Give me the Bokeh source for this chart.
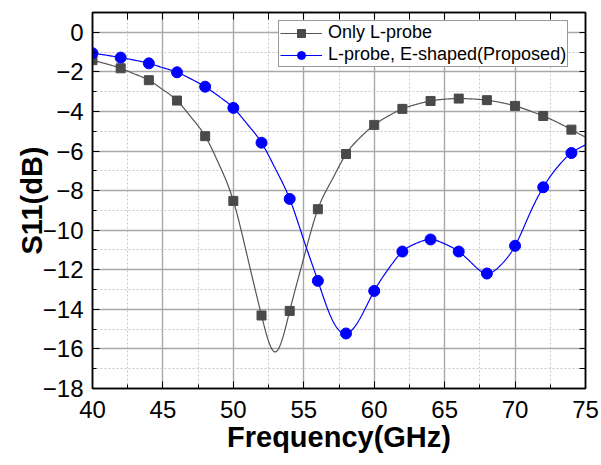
import numpy as np
from bokeh.plotting import figure
from bokeh.models import (LinearAxis, SingleIntervalTicker, Range1d, Legend, LegendItem,
                          CustomJSTickFormatter)
from bokeh.embed import file_html
from bokeh.resources import INLINE

# ---- data ----
freq = [40, 41, 42, 43, 44, 45, 46, 47, 48, 49, 50, 51, 52, 53, 54, 55, 56, 57,
        58, 59, 60, 61, 62, 63, 64, 65, 66, 67, 68, 69, 70, 71, 72, 73, 74, 75]
only_l_probe = [-1.41, -1.60, -1.82, -2.11, -2.42, -2.90, -3.45, -4.29, -5.25, -6.70,
                -8.52, -11.35, -14.31, -16.15, -14.08, -11.40, -8.94, -7.46, -6.15, -5.32,
                -4.68, -4.23, -3.87, -3.64, -3.47, -3.38, -3.35, -3.37, -3.43, -3.55,
                -3.72, -3.96, -4.23, -4.55, -4.92, -5.30]
e_shaped = [-1.06, -1.16, -1.28, -1.41, -1.57, -1.79, -2.02, -2.36, -2.75, -3.25,
            -3.82, -4.65, -5.58, -6.92, -8.42, -10.50, -12.56, -14.50, -15.22, -14.45,
            -13.07, -11.97, -11.08, -10.66, -10.47, -10.69, -11.08, -11.72, -12.19, -11.75,
            -10.79, -9.23, -7.83, -6.82, -6.10, -5.69]
series_names = ["Only L-probe", "L-probe, E-shaped(Proposed)"]
x_label = "Frequency(GHz)"
y_label = "S11(dB)"

FONT = "Liberation Sans"


def natural_spline(x, y, xs):
    x = np.asarray(x, float)
    y = np.asarray(y, float)
    n = len(x)
    h = np.diff(x)
    A = np.zeros((n, n))
    r = np.zeros(n)
    A[0, 0] = 1.0
    A[-1, -1] = 1.0
    for i in range(1, n - 1):
        A[i, i - 1] = h[i - 1]
        A[i, i] = 2 * (h[i - 1] + h[i])
        A[i, i + 1] = h[i]
        r[i] = 3 * ((y[i + 1] - y[i]) / h[i] - (y[i] - y[i - 1]) / h[i - 1])
    c = np.linalg.solve(A, r)
    b = (y[1:] - y[:-1]) / h - h * (2 * c[:-1] + c[1:]) / 3
    d = (c[1:] - c[:-1]) / (3 * h)
    idx = np.clip(np.searchsorted(x, xs) - 1, 0, n - 2)
    dx = xs - x[idx]
    return y[idx] + b[idx] * dx + c[idx] * dx ** 2 + d[idx] * dx ** 3


p = figure(width=601, height=465, output_backend="svg", toolbar_location=None,
           x_range=Range1d(40, 75), y_range=Range1d(-18, 1),
           min_border_left=92, min_border_right=16, min_border_top=12, min_border_bottom=77)

p.background_fill_color = "white"
p.border_fill_color = "white"
p.outline_line_color = "black"
p.outline_line_width = 1.5

# axes
xt = SingleIntervalTicker(interval=5, num_minor_ticks=2)
yt = SingleIntervalTicker(interval=2, num_minor_ticks=2)
p.xaxis.ticker = xt
p.yaxis.ticker = yt
for ax in (p.xaxis[0], p.yaxis[0]):
    ax.axis_line_color = "black"
    ax.axis_line_width = 1.5
    ax.major_tick_in = 7
    ax.major_tick_out = 0
    ax.minor_tick_in = 4
    ax.minor_tick_out = 0
    ax.major_tick_line_color = "black"
    ax.minor_tick_line_color = "black"
    ax.major_label_text_font = FONT
    ax.major_label_text_font_size = "24px"
    ax.major_label_text_color = "black"
    ax.axis_label_text_font = FONT
    ax.axis_label_text_font_style = "bold"
    ax.axis_label_text_font_size = "29px"
    ax.axis_label_text_color = "black"
p.xaxis.axis_label = x_label
p.yaxis.axis_label = y_label
p.xaxis.major_label_standoff = 12
p.yaxis.major_label_standoff = 9
p.xaxis.axis_label_standoff = 0
p.yaxis.axis_label_standoff = -8

blank = CustomJSTickFormatter(code="return '';")
top_ax = LinearAxis(ticker=SingleIntervalTicker(interval=2.5, num_minor_ticks=0),
                    formatter=blank, major_label_standoff=0, major_tick_in=7, major_tick_out=0,
                    axis_line_color="black", axis_line_width=1.5)
right_ax = LinearAxis(ticker=SingleIntervalTicker(interval=1, num_minor_ticks=0),
                      formatter=blank, major_label_standoff=0, major_tick_in=6, major_tick_out=0,
                      axis_line_color="black", axis_line_width=1.5)
p.add_layout(top_ax, "above")
p.add_layout(right_ax, "right")

# grid
p.xgrid.ticker = xt
p.ygrid.ticker = yt
for g in (p.xgrid[0], p.ygrid[0]):
    g.grid_line_color = "#a8a8a8"
    g.grid_line_width = 1.4
    g.minor_grid_line_color = "#c8c8c8"
    g.minor_grid_line_dash = "2 2"
    g.minor_grid_line_width = 1

# curves
xs = np.linspace(40, 75, 701)
f_arr = np.asarray(freq, float)
mk = (f_arr % 2 == 0) & (f_arr < 75)
g_line = p.line(xs, natural_spline(freq, only_l_probe, xs), line_color="#555555", line_width=1.2)
g_mark = p.scatter(f_arr[mk], np.asarray(only_l_probe)[mk], marker="square", size=9,
                   fill_color="#4a4a4a", line_color="#4a4a4a")
b_line = p.line(xs, natural_spline(freq, e_shaped, xs), line_color="#0000ff", line_width=1.2)
b_mark = p.scatter(f_arr[mk], np.asarray(e_shaped)[mk], marker="circle", size=11,
                   fill_color="#0000ff", line_color="#0000ff")

legend = Legend(items=[LegendItem(label=series_names[0], renderers=[g_line, g_mark]),
                       LegendItem(label=series_names[1], renderers=[b_line, b_mark])],
                location=(186, 321))
legend.margin = 0
legend.padding = 1
legend.spacing = 1
legend.glyph_width = 42
legend.glyph_height = 20
legend.label_height = 20
legend.label_standoff = 6
legend.label_text_font = FONT
legend.label_text_font_size = "18px"
legend.label_text_color = "black"
legend.border_line_color = "#333333"
legend.border_line_width = 1
legend.background_fill_alpha = 1
p.add_layout(legend)

open("out.html", "w").write(file_html(p, INLINE))
